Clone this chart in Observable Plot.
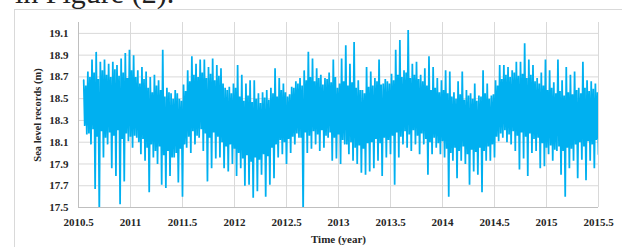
<!DOCTYPE html>
<html>
<head>
<meta charset="utf-8">
<script src="https://cdn.jsdelivr.net/npm/d3@7"></script>
<script src="https://cdn.jsdelivr.net/npm/@observablehq/plot@0.6"></script>
<style>
  body { margin: 0; background: #fff; }
  #wrap { position: relative; width: 622px; height: 247px; overflow: hidden; background: #fff; }
  #frame { position: absolute; left: 14px; top: 9px; width: 700px; height: 300px; border: 1px solid #d9d9d9; box-sizing: border-box; }
  #lead { position: absolute; left: 15px; top: -22px; font: 30px/30px "Liberation Serif", serif; color: #222; white-space: nowrap; }
  #chart { position: absolute; left: 0; top: 0; }
</style>
</head>
<body>
<div id="wrap">
  <div id="lead">in Figure (2).</div>
  <div id="frame"></div>
  <div id="chart"></div>
</div>
<script>
// ---- data ----
const xTicks = [2010.5, 2011, 2011.5, 2012, 2012.5, 2013, 2013.5, 2014, 2014.5, 2015, 2015.5];
const xTickLabels = ["2010.5", "2011", "2011.5", "2012", "2012.5", "2013", "2013.5", "2014", "2014.5", "2015", "2015.5"];
const yTicks = [17.5, 17.7, 17.9, 18.1, 18.3, 18.5, 18.7, 18.9, 19.1];
const yTickLabels = ["17.5", "17.7", "17.9", "18.1", "18.3", "18.5", "18.7", "18.9", "19.1"];

// sampling of the record: start year and interval (years)
const startYear = 2010.55;
const stepYear = 0.04;
// highest peak in each interval (m)
const highs = [
  18.67, 18.75, 18.86, 18.93, 18.84, 18.86, 18.82, 18.84, 18.81, 18.87,
  18.92, 18.95, 18.90, 18.76, 18.79, 18.75, 18.70, 18.72, 18.67, 18.95,
  18.60, 18.55, 18.58, 18.50, 18.63, 18.76, 18.89, 18.82, 18.86, 18.86,
  18.79, 18.87, 18.81, 18.78, 18.60, 18.61, 18.64, 18.81, 18.72, 18.64,
  18.67, 18.67, 18.55, 18.56, 18.58, 18.60, 18.78, 18.69, 18.64, 18.52,
  18.61, 18.66, 18.69, 18.76, 18.93, 18.87, 18.78, 18.72, 18.69, 18.74,
  18.86, 18.60, 18.87, 18.99, 18.82, 19.02, 18.67, 18.58, 18.79, 18.75,
  18.69, 18.86, 18.64, 18.66, 18.73, 18.95, 19.04, 18.76, 19.13, 18.82,
  18.84, 18.72, 18.78, 18.89, 18.79, 18.69, 18.67, 18.76, 18.75, 18.56,
  18.66, 18.75, 18.58, 18.55, 18.64, 18.53, 18.76, 18.64, 18.53, 18.67,
  18.81, 18.81, 18.79, 18.76, 18.84, 18.84, 19.01, 18.86, 18.81, 18.69,
  18.74, 18.86, 18.76, 18.65, 18.86, 18.67, 18.79, 18.72, 18.75, 18.60,
  18.84, 18.67, 18.66, 18.64
];
// lowest trough in each interval (m)
const lows = [
  18.17, 18.08, 17.67, 17.45, 17.96, 18.08, 17.86, 17.79, 17.53, 17.74,
  18.11, 18.05, 18.14, 17.99, 17.93, 17.64, 17.96, 17.90, 17.71, 17.68,
  17.79, 17.96, 17.73, 17.60, 18.05, 18.00, 18.08, 18.14, 18.02, 17.74,
  17.86, 17.95, 17.96, 17.86, 17.83, 17.90, 17.79, 17.86, 17.70, 17.71,
  17.59, 17.65, 17.80, 17.60, 17.71, 17.77, 17.96, 17.99, 17.90, 18.00,
  18.08, 18.14, 17.45, 18.00, 18.04, 18.08, 18.02, 18.05, 18.14, 17.93,
  17.95, 17.90, 18.08, 17.99, 17.93, 17.90, 17.82, 17.80, 17.83, 17.86,
  17.93, 17.79, 17.96, 17.99, 17.71, 17.96, 18.08, 18.05, 18.02, 18.08,
  17.99, 18.08, 17.80, 17.99, 18.05, 17.99, 17.96, 17.60, 17.93, 17.77,
  17.93, 17.90, 17.71, 17.83, 17.80, 17.64, 17.93, 17.93, 17.96, 18.11,
  18.14, 18.10, 18.08, 18.02, 17.85, 17.95, 17.79, 18.00, 18.02, 17.86,
  17.88, 17.99, 17.93, 18.02, 17.80, 17.60, 17.86, 17.93, 17.77, 17.94,
  17.75, 17.93, 17.86, 17.99
];
// secondary (inner) high of each interval: ragged top of the dense band (m)
const innerHighs = [
  18.62, 18.70, 18.74, 18.68, 18.76, 18.72, 18.70, 18.77, 18.71, 18.74, 18.69, 18.76,
  18.70, 18.64, 18.68,
  18.60, 18.56, 18.62, 18.58,
  18.52, 18.56, 18.50, 18.55, 18.48, 18.57,
  18.66, 18.72, 18.70, 18.74, 18.69, 18.73, 18.67, 18.71,
  18.64, 18.58, 18.55, 18.60,
  18.52, 18.48, 18.53, 18.47, 18.50, 18.46, 18.51, 18.49,
  18.55, 18.52, 18.58, 18.56, 18.54,
  18.60, 18.64, 18.62, 18.67, 18.70, 18.66, 18.69, 18.63, 18.68, 18.65, 18.70, 18.64,
  18.66, 18.62, 18.65, 18.60, 18.58, 18.55, 18.61,
  18.62, 18.66, 18.63, 18.68, 18.64, 18.67,
  18.72, 18.70, 18.74, 18.69, 18.72, 18.68, 18.66,
  18.62, 18.58, 18.60, 18.56, 18.58,
  18.55, 18.52, 18.50, 18.54, 18.49, 18.53, 18.50, 18.48, 18.52, 18.55, 18.50, 18.54,
  18.62, 18.68, 18.72, 18.70, 18.74, 18.71, 18.73, 18.69, 18.72, 18.66, 18.64,
  18.62, 18.58, 18.60, 18.55, 18.57, 18.53, 18.56, 18.54,
  18.58, 18.55, 18.60, 18.57, 18.59, 18.56
];
// secondary (inner) low of each interval: ragged bottom of the dense band (m)
const innerLows = [
  18.25, 18.18, 18.22, 18.15, 18.20, 18.14, 18.19, 18.16, 18.21, 18.13, 18.18, 18.15,
  18.16, 18.10, 18.13,
  18.05, 18.08, 18.02, 18.06,
  17.98, 18.02, 17.96, 18.00, 18.04, 18.08,
  18.15, 18.20, 18.16, 18.22, 18.18, 18.14, 18.19, 18.15,
  18.10, 18.06, 18.08, 18.04,
  18.00, 17.95, 17.98, 17.92, 17.96, 17.94, 17.99, 17.97,
  18.05, 18.08, 18.12, 18.10, 18.13,
  18.15, 18.18, 18.14, 18.19, 18.16, 18.20, 18.17, 18.21, 18.16, 18.19, 18.14, 18.17,
  18.12, 18.08, 18.10, 18.05, 18.07, 18.04, 18.09,
  18.10, 18.13, 18.09, 18.14, 18.12, 18.16,
  18.19, 18.15, 18.20, 18.17, 18.21, 18.16, 18.18,
  18.13, 18.10, 18.14, 18.09, 18.11,
  18.04, 18.00, 18.05, 18.02, 18.06, 17.99, 18.03, 18.01, 18.05, 18.02, 18.06, 18.08,
  18.15, 18.18, 18.21, 18.17, 18.20, 18.16, 18.19, 18.15, 18.18, 18.13, 18.14,
  18.09, 18.05, 18.07, 18.03, 18.06, 18.02, 18.05, 18.04,
  18.08, 18.10, 18.06, 18.11, 18.08, 18.12
];

// ---- build the record table: four readings per interval ----
const record = [];
highs.forEach((h, i) => {
  const t = startYear + i * stepYear;
  record.push({t, v: h});
  record.push({t: t + stepYear * 0.25, v: innerLows[i]});
  record.push({t: t + stepYear * 0.5, v: innerHighs[i]});
  record.push({t: t + stepYear * 0.75, v: lows[i]});
});

const blue = "#00b0f0";
const font = "'Liberation Serif', 'Times New Roman', serif";

const chart = Plot.plot({
  width: 622,
  height: 247,
  marginLeft: 78,
  marginRight: 24,
  marginTop: 22,
  marginBottom: 40,
  style: {fontFamily: font, background: "transparent", overflow: "visible"},
  x: {domain: [2010.5, 2015.5]},
  y: {domain: [17.5, 19.2]},
  marks: [
    Plot.ruleY(yTicks, {stroke: "#d9d9d9", strokeWidth: 1}),
    Plot.ruleX(xTicks.slice(1), {stroke: "#d9d9d9", strokeWidth: 1}),
    Plot.line(record, {x: "t", y: "v", stroke: blue, strokeWidth: 1.75, strokeLinejoin: "miter", clip: true}),
    Plot.ruleX([2010.5], {stroke: "#bfbfbf"}),
    Plot.ruleY([17.5], {stroke: "#bfbfbf"}),
    Plot.axisY({ticks: yTicks, tickFormat: (d, i) => yTickLabels[i], tickSize: 0, tickPadding: 10,
      label: null, fontSize: 11, fontWeight: "bold", fill: "#262626"}),
    Plot.axisX({ticks: xTicks, tickFormat: (d, i) => xTickLabels[i], tickSize: 0, tickPadding: 11,
      label: null, fontSize: 11, fontWeight: "bold", fill: "#262626"}),
    Plot.text(["Sea level records (m)"], {frameAnchor: "left", dx: -41, rotate: -90, textAnchor: "middle",
      lineAnchor: "middle", fontSize: 10.5, fontWeight: "bold", fill: "#262626"}),
    Plot.text(["Time (year)"], {frameAnchor: "bottom", dy: 32, textAnchor: "middle",
      lineAnchor: "middle", fontSize: 11, fontWeight: "bold", fill: "#262626"})
  ]
});
document.getElementById("chart").appendChild(chart);
</script>
</body>
</html>
